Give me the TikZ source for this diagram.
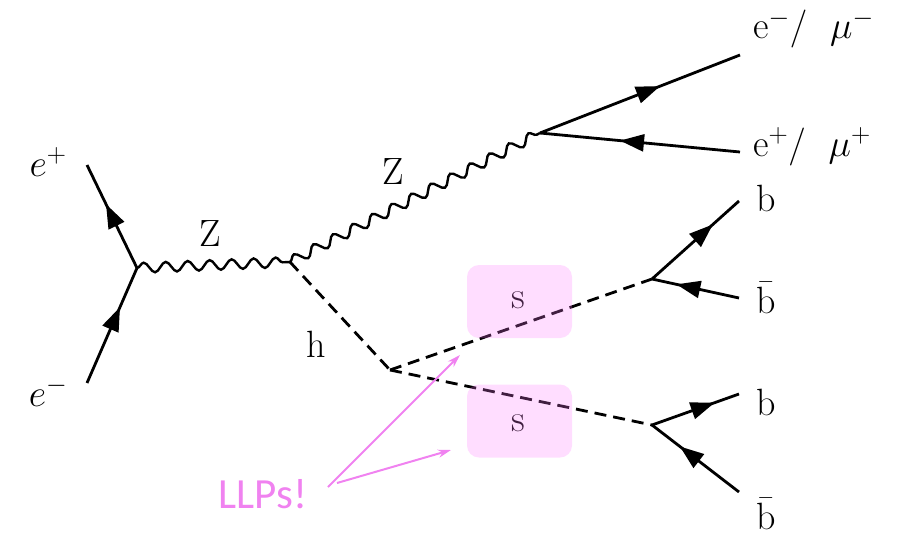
\RequirePackage{fix-cm}
\documentclass[tikz,border=0pt]{standalone}
\usepackage{fontspec}
\newfontfamily\llpfont{Carlito}
\usetikzlibrary{arrows.meta,decorations.pathmorphing,decorations.markings}
\definecolor{llppink}{RGB}{240,130,240}
\definecolor{boxpink}{RGB}{255,120,255}
\tikzset{
  fermion/.style={line width=2.8pt, postaction={decorate},
    decoration={markings, mark=at position #1 with {\arrow{Triangle[length=24pt,width=17pt]}}}},
  fermion/.default=0.62,
  boson/.style={line width=2.4pt, decorate,
    decoration={snake, segment length=22pt, amplitude=5pt}},
  scalar/.style={line width=2.8pt, dash pattern=on 12pt off 7pt},
  lbl/.style={font=\fontsize{38}{44}\selectfont, inner sep=0pt},
  vtx/.style={coordinate},
  llpbox/.style={rounded corners=12pt, fill=boxpink, fill opacity=0.25,
    minimum width=105pt, minimum height=73pt, inner sep=0pt},
  llparrow/.style={draw=llppink, line width=2pt, -{Stealth[length=13pt,width=8pt]}}
}
\begin{document}
\begin{tikzpicture}[x=1pt,y=-1pt]
\useasboundingbox (0,0) rectangle (903,536);
% vertices
\node[vtx] (v1) at (137,268) {};
\node[vtx] (v2) at (290,262) {};
\node[vtx] (v3) at (540,133) {};
\node[vtx] (v4) at (390,370) {};
\node[vtx] (v5) at (652,279) {};
\node[vtx] (v6) at (652,425) {};
\node[vtx] (ep) at (87,165) {};
\node[vtx] (em) at (87,383) {};
\node[vtx] (o1) at (740,55) {};
\node[vtx] (o2) at (740,152) {};
\node[vtx] (o3) at (739,201) {};
\node[vtx] (o4) at (739,298) {};
\node[vtx] (o5) at (739,394) {};
\node[vtx] (o6) at (739,492) {};
% labels
\node[lbl] (tep) at (48,162) {$e^+$};
\node[lbl] (tem) at (48,392) {$e^-$};
\node[lbl] (tz1) at (210,234) {Z};
\node[lbl] (tz2) at (393,172) {Z};
\node[lbl] (th) at (316,344) {h};
\node[lbl, anchor=west] (to1) at (753,29) {$\mathrm{e}^-/\ \ \mu^-$};
\node[lbl, anchor=west] (to2) at (753,147) {$\mathrm{e}^+/\ \ \mu^+$};
\node[lbl, anchor=west] (to3) at (756,198) {b};
\node[lbl, anchor=west] (to4) at (756,298) {$\bar{\mathrm{b}}$};
\node[lbl, anchor=west] (to5) at (756,402) {b};
\node[lbl, anchor=west] (to6) at (756,514) {$\bar{\mathrm{b}}$};
\node[lbl] (ts1) at (518,300) {s};
\node[lbl] (ts2) at (518,423) {s};
% lines
\draw[fermion] (v1) -- (ep);
\draw[fermion=0.66] (em) -- (v1);
\draw[boson] (v1) -- (v2);
\draw[boson] (v2) -- (v3);
\draw[fermion=0.6] (v3) -- (o1);
\draw[fermion=0.6] (o2) -- (v3);
\draw[scalar] (v2) -- (v4);
\draw[scalar] (v4) -- (v5);
\draw[scalar] (v4) -- (v6);
\draw[fermion=0.7] (v5) -- (o3);
\draw[fermion=0.72] (o4) -- (v5);
\draw[fermion=0.72] (v6) -- (o5);
\draw[fermion=0.68] (o6) -- (v6);
% LLP boxes
\node[llpbox] (b1) at (519.5,301.5) {};
\node[llpbox] (b2) at (519.5,421) {};
% LLPs annotation
\node[font=\llpfont\fontsize{43}{50}\selectfont, text=llppink, inner sep=0pt] (llp) at (263,494) {LLPs!};
\coordinate (a1) at (328,487);
\coordinate (a2) at (337,483);
\coordinate (t1) at (460,355);
\coordinate (t2) at (451,450);
\draw[llparrow] (a1) -- (t1);
\draw[llparrow] (a2) -- (t2);
\end{tikzpicture}
\end{document}
